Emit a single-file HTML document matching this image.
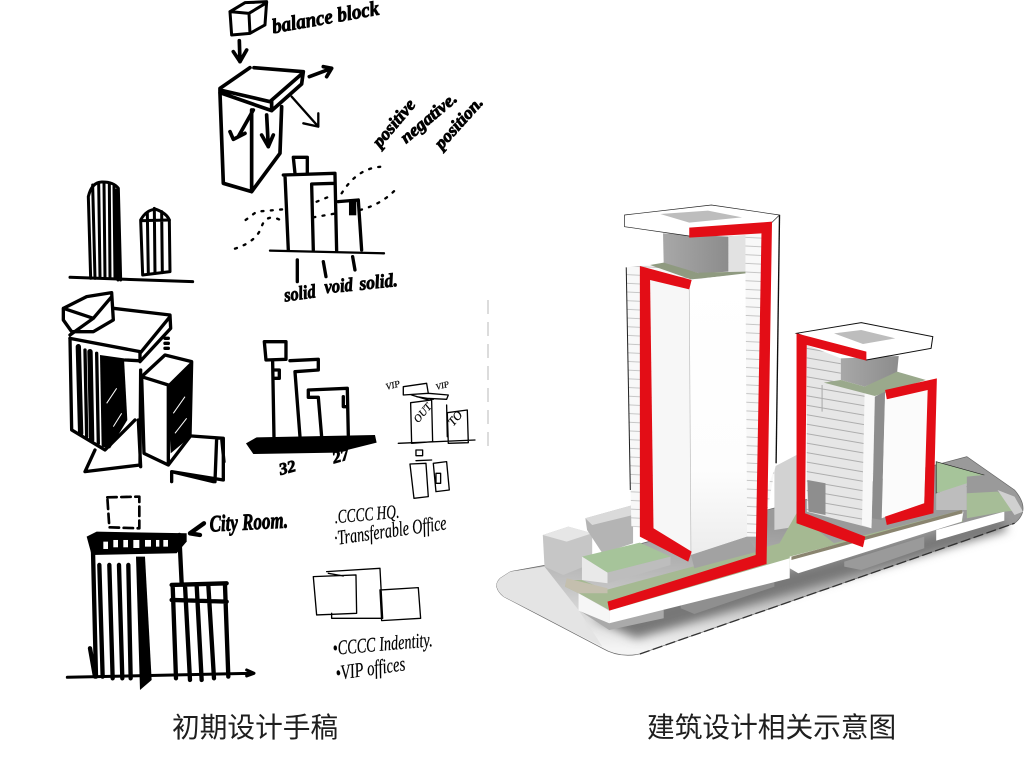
<!DOCTYPE html>
<html lang="zh">
<head>
<meta charset="utf-8">
<title>Sketches</title>
<style>
html,body{margin:0;padding:0;background:#fff;width:1024px;height:768px;overflow:hidden}
svg{display:block}
.cap{font-family:"Liberation Sans","Noto Sans CJK SC",sans-serif;font-size:27.7px;fill:#1e1e1e}
.h{font-family:"Liberation Serif",serif;font-style:italic;font-weight:700;fill:#000;stroke:#000;stroke-width:2.5px}
.t{font-family:"Liberation Serif",serif;font-style:italic;fill:#000;stroke:#000;stroke-width:.6px}
.s{fill:none;stroke:#000;stroke-linecap:round;stroke-linejoin:round}
</style>
</head>
<body>
<svg width="1024" height="768" viewBox="0 0 1024 768" xmlns="http://www.w3.org/2000/svg">
<defs>
<pattern id="hl" width="40" height="26" patternUnits="userSpaceOnUse" patternTransform="rotate(3)">
<rect width="40" height="26" fill="#f8f8f8"/><rect y="23" width="40" height="3" fill="#c6c6c6"/>
</pattern>
<pattern id="hr" width="40" height="28" patternUnits="userSpaceOnUse" patternTransform="rotate(10)">
<rect width="40" height="28" fill="#e6e6e6"/><rect y="25" width="40" height="3" fill="#adadad"/>
</pattern>
<linearGradient id="gnd" x1="0.55" y1="0.35" x2="0.45" y2="1">
<stop offset="0" stop-color="#9a9a9a"/><stop offset="0.55" stop-color="#c4c4c4"/><stop offset="1" stop-color="#f4f4f4"/>
</linearGradient>
<linearGradient id="core" x1="0" y1="0" x2="1" y2="0">
<stop offset="0" stop-color="#a8a8a8"/><stop offset="1" stop-color="#8c8c8c"/>
</linearGradient>
<linearGradient id="wf" x1="0" y1="0" x2="0" y2="1">
<stop offset="0" stop-color="#fff"/><stop offset="0.7" stop-color="#fdfdfd"/><stop offset="1" stop-color="#ececec"/>
</linearGradient>
<filter id="soft"><feGaussianBlur stdDeviation="0.6"/></filter>
<filter id="sh" x="-20%" y="-50%" width="140%" height="200%"><feGaussianBlur stdDeviation="14"/></filter>
</defs>
<rect width="1024" height="768" fill="#fff"/>

<!-- 3D MODEL -->
<g transform="translate(490,190) scale(0.3406,0.3333)" filter="url(#soft)">
<path d="M60,1145 L300,1100 L1400,800 L1540,900 Q1590,960 1540,1000 L440,1392 Q380,1405 330,1375 L40,1220 Q5,1190 30,1165 Z" fill="url(#gnd)" stroke="#666" stroke-width="2"/>
<path d="M60,1145 L160,1130 L260,1260 L330,1370 L40,1220 Q5,1190 30,1165 Z" fill="#e4e4e4"/>
<polygon points="300,1285 880,1140 1500,985 1520,1020 430,1345" fill="#777" filter="url(#sh)"/>
<path d="M440,1392 L1540,1000" stroke="#333" stroke-width="4" stroke-dasharray="30 10" fill="none"/>
<!-- undersides -->
<polygon points="560,1230 835,1160 835,1190 600,1272 560,1255" fill="#8f8f8f"/>
<polygon points="1040,1115 1275,1040 1275,1075 1090,1140 1040,1130" fill="#9a9a9a"/>
<polygon points="260,1260 510,1260 510,1285 350,1320" fill="#aaa"/>
<!-- left blocks -->
<polygon points="155,1035 230,1010 300,1030 300,1120 215,1155 160,1130" fill="#c6c6c6"/>
<polygon points="155,1035 230,1010 300,1030 225,1055" fill="#e6e6e6"/>
<polygon points="280,985 420,945 420,1060 330,1090 285,1020" fill="#b4b4b4"/>
<polygon points="280,985 420,945 420,975 300,1005" fill="#dadada"/>
<!-- back mid block -->
<polygon points="835,830 900,795 900,1010 835,1020" fill="#d2d2d2"/>
<!-- podium -->
<polygon points="225,1170 270,1170 340,1200 850,1060 900,970 1010,1060 1385,960 1388,995 905,1120 350,1260 260,1210 220,1190" fill="#a5b992"/>
<polygon points="225,1165 345,1195 345,1210 260,1210 220,1190" fill="#c4bfae"/>
<polygon points="270,1100 440,1058 530,1100 345,1148" fill="#a6c49a"/>
<polygon points="270,1100 345,1148 345,1180 270,1170" fill="#e9e9e9"/>
<polygon points="345,1148 530,1100 530,1125 345,1180" fill="#bdbdbd"/>
<polygon points="260,1210 350,1262 350,1300 260,1262" fill="#f6f6f6"/>
<polygon points="350,1262 880,1105 880,1165 350,1300" fill="#fff"/>
<polygon points="880,1100 1390,965 1385,995 905,1150 880,1135" fill="#fff"/>
<polygon points="885,1100 1385,960 1388,970 885,1110" fill="#8a8570"/>
<polygon points="1310,1020 1510,965 1510,992 1310,1052" fill="#fff"/>
<!-- right podium -->
<polygon points="1310,815 1450,855 1400,890 1310,910" fill="#a6c49a" stroke="#222" stroke-width="2"/>
<polygon points="1310,910 1400,880 1400,960 1310,960" fill="#bdbdbd"/>
<polygon points="1400,860 1450,855 1450,890 1400,910" fill="#9a9a9a"/>
<polygon points="1400,910 1490,905 1560,960 1510,965 1400,985" fill="#a6bd97"/>
<polygon points="1490,900 1540,920 1565,965 1540,975" fill="#d0d0d0"/>
<!-- Tower 1 back -->
<polygon points="400,232 520,218 700,140 850,75 838,830 800,1040 755,1040 415,1010" fill="url(#hl)"/>
<path d="M400,232 L412,900" fill="none" stroke="#222" stroke-width="3"/>
<polygon points="750,140 800,130 800,1030 755,1040" fill="url(#hl)"/>
<polygon points="800,100 850,75 838,830 812,900" fill="#fff"/>
<path d="M850,75 L840,820" fill="none" stroke="#111" stroke-width="4"/>
<!-- core 1 -->
<polygon points="508,130 700,140 700,245 615,250 510,222" fill="url(#core)"/>
<polygon points="700,140 750,135 750,250 700,250" fill="#e2e2e2"/>
<polygon points="470,225 510,218 615,250 590,268" fill="#8f9a80"/>
<polygon points="590,268 615,248 750,245 750,252" fill="#8f9a80"/>
<!-- roof 1 -->
<polygon points="395,75 650,45 850,75 825,100 585,138 395,110" fill="#fff" stroke="#222" stroke-width="2"/>
<polygon points="500,72 640,62 740,82 585,98" fill="#bdbdbd"/>
<!-- main volume 1 -->
<polygon points="470,270 585,298 590,1095 480,1020" fill="#f7f7f7"/>
<polygon points="585,270 750,250 755,1040 590,1095" fill="url(#wf)"/>
<path d="M585,298 L590,1095" stroke="#bdbdbd" stroke-width="2" fill="none"/>
<polygon points="590,1095 755,1040 785,1085 600,1135" fill="#a2a2a2"/>
<!-- red 1 -->
<polygon points="440,228 592,270 585,298 470,270 480,1015 592,1085 582,1115 440,1040" fill="#e30d14"/>
<polygon points="585,113 828,95 812,1122 350,1262 345,1235 780,1095 797,130 585,143" fill="#e30d14"/>
<!-- Tower 2 body -->
<polygon points="930,465 1030,505 1030,570 1130,620 1120,1015 930,965" fill="url(#hr)"/>
<polygon points="932,870 985,880 985,975 935,965" fill="#8e8e8e"/>
<polygon points="1100,600 1130,620 1120,1015 1092,1005" fill="#f8f8f8"/>
<!-- core 2 -->
<polygon points="1030,505 1200,498 1195,550 1100,590 1030,570" fill="url(#core)"/>
<polygon points="980,578 1030,570 1100,590 1195,545 1280,570 1130,618" fill="#9aa98c"/>
<path d="M975,585 L975,665" stroke="#aaa" stroke-width="3" fill="none"/>
<!-- roof 2 -->
<polygon points="900,430 1090,398 1300,440 1295,475 1105,510" fill="#fff" stroke="#111" stroke-width="3"/>
<polygon points="1010,430 1090,420 1190,445 1095,462" fill="#bdbdbd"/>
<!-- front 2 -->
<polygon points="1130,620 1160,605 1150,990 1122,985" fill="#8d8d8d"/>
<polygon points="1160,630 1285,600 1275,940 1150,985" fill="#fbfbfb"/>
<!-- red 2 -->
<polygon points="900,430 1105,485 1105,512 930,465 925,970 1102,1040 1095,1072 900,1000" fill="#e30d14"/>
<polygon points="1160,600 1312,565 1302,970 1165,1005 1160,980 1275,940 1285,600 1165,628" fill="#e30d14"/>
</g>

<!-- SKETCH TOP -->
<g transform="translate(50,0) scale(0.3333)">
<g class="s" stroke-width="9">
<path d="M540,35 L545,105 L600,100 L597,40 Z M540,35 L585,8 L650,5 L645,75 L600,100 M597,40 L650,8"/>
</g>
<g class="s" stroke-width="11">
<path d="M568,122 L570,185 M550,155 L570,185 L590,150"/>
<path d="M600,203 L510,265 L510,278 L665,332 L755,252 L760,215 L612,203 M510,270 L660,305 L755,222 M665,305 L665,332"/>
<path d="M510,280 L520,550 L605,575 L605,330 M605,575 L690,460 L695,320"/>
<path d="M610,330 L565,410 M540,395 L550,418 L585,400 M650,345 L655,440 M635,405 L655,440 L670,405"/>
<path d="M778,230 L845,205 M820,200 L845,205 L830,230"/>
</g>
<g class="s" stroke-width="7"><path d="M725,290 L805,380 L760,370 M805,380 L805,340"/></g>
<g class="s" stroke-width="10">
<path d="M705,525 L715,750 M700,525 L855,520 M735,520 L730,472 L772,472 L772,518 M785,552 L790,750 M785,552 L855,550 M855,522 L860,752 M865,605 L925,600 L935,750"/>
<path d="M742,780 L742,845 M820,785 L828,830 M908,770 L915,810"/>
</g>
<g class="s" stroke-width="7"><path d="M660,752 L1002,760"/></g>
<rect x="897" y="598" width="22" height="48" fill="#000"/>
<g class="s" stroke-width="7" stroke-dasharray="6 22">
<path d="M555,746 Q620,725 635,680 T700,665 M587,660 L620,635 L700,628 M790,652 L860,640 M800,605 L850,585 M875,580 Q925,500 1002,500 M930,630 Q1000,612 1045,560"/>
</g>
<text class="h" transform="translate(670,100) rotate(-10)" font-size="62" textLength="325" lengthAdjust="spacingAndGlyphs">balance block</text>
<text class="h" transform="translate(990,445) rotate(-50)" font-size="52" textLength="170" lengthAdjust="spacingAndGlyphs">positive</text>
<text class="h" transform="translate(1068,432) rotate(-40)" font-size="52" textLength="205" lengthAdjust="spacingAndGlyphs">negative.</text>
<text class="h" transform="translate(1175,450) rotate(-48)" font-size="52" textLength="190" lengthAdjust="spacingAndGlyphs">position.</text>
<text class="h" transform="translate(705,905) rotate(-8)" font-size="58" textLength="95" lengthAdjust="spacingAndGlyphs">solid</text>
<text class="h" transform="translate(825,880) rotate(-5)" font-size="58" textLength="85" lengthAdjust="spacingAndGlyphs">void</text>
<text class="h" transform="translate(930,870) rotate(-6)" font-size="58" textLength="115" lengthAdjust="spacingAndGlyphs">solid.</text>
<!-- striped towers -->
<g class="s" stroke-width="9">
<path d="M122,835 L115,590 Q125,547 155,546 Q190,545 205,565 L212,840"/>
<path d="M135,835 L128,555 M150,830 L146,548 M165,835 L162,548 M180,835 L178,552 M195,835 L192,560 M204,840 L200,570"/>
<path d="M278,825 L272,660 Q290,628 318,628 Q350,640 358,660 L360,815 L278,825"/>
<path d="M295,822 L292,640 M315,820 L313,625 M337,818 L335,635 M275,662 L358,660"/>
<path d="M60,832 L428,845"/>
</g>
</g>

<!-- SKETCH BOTTOM -->
<g transform="translate(50,290) scale(0.3333)">
<g class="s" stroke-width="10">
<path d="M40,55 L110,20 L185,8 L190,90 L130,125 L65,125 L40,90 Z M40,55 L130,85 L185,20 M60,135 L130,85"/>
<path d="M190,55 L360,75 L362,115 L270,215 L270,185 L60,145 M360,80 L270,190"/>
<path d="M60,145 L65,420 L165,480 L255,390 M225,210 L265,212"/>
<path d="M135,480 L105,545 L270,525 L272,240 M265,390 L272,530"/>
<path d="M275,260 L345,195 L425,215 L420,440 L355,525 L282,490 L275,260 M275,260 L355,285 L355,525"/>
<path d="M425,438 L520,445 L520,570 L365,545 L365,575 M365,545 L490,575 M500,445 L495,575 M515,445 L522,515"/>
<path d="M345,145 L355,145 M345,160 L355,160 M345,175 L355,175"/>
</g>
<g class="s" stroke-width="16"><path d="M85,170 L92,430 M120,185 L125,450"/></g>
<g class="s" stroke-width="10"><path d="M105,180 L110,440 M140,190 L145,460"/></g>
<polygon points="150,195 222,205 232,390 180,475 155,470" fill="#000"/>
<polygon points="352,285 420,218 422,440 362,490" fill="#000"/>
<path d="M170,340 L200,295 M190,410 L215,370 M370,370 L405,320 M375,430 L410,385" stroke="#fff" stroke-width="3" fill="none"/>
<!-- middle elevation -->
<g class="s" stroke-width="10">
<path d="M643,155 L708,155 L708,208 L648,210 Z M668,215 L672,440 M720,212 L805,208 L805,240 L735,245 L750,440 M670,240 L688,240 L688,265 L672,265"/>
<path d="M775,300 L892,295 L895,435 M775,300 L775,322 L805,322 L815,440 M880,320 L880,350 L892,350"/>
</g>
<polygon points="620,442 975,435 980,458 860,488 610,492 588,460" fill="#000"/>
<text class="h" transform="translate(692,555) rotate(-15)" font-size="50">32</text>
<text class="h" transform="translate(852,520) rotate(-15)" font-size="50">27</text>
<!-- small sketches -->
<g class="s" stroke-width="4">
<path d="M1060,290 L1130,280 L1135,310 L1060,315 Z M1085,315 L1135,330 M1135,310 L1195,315 L1190,328 L1130,325 M1100,320 L1150,328"/>
<path d="M1082,338 L1145,330 L1148,455 L1085,460 Z M1192,368 L1252,360 L1255,458 L1195,460 Z M1045,460 L1275,450 M1190,345 L1192,440"/>
<path d="M1098,480 L1118,480 L1118,497 L1098,497 Z M1080,522 L1128,520 L1135,620 L1092,625 Z M1098,512 L1145,510 M1150,520 L1190,515 L1198,600 L1158,605 Z M1158,550 L1172,550 L1172,580 L1158,580 Z"/>
<path d="M790,860 L918,855 L920,970 L800,975 Z M830,845 L990,835 L998,985 L845,985 L845,970 M835,850 L880,858 M990,900 L1105,893 L1112,985 L995,992 Z"/>
</g>
<text class="t" transform="translate(1010,300) rotate(-15)" font-size="28">VIP</text>
<text class="t" transform="translate(1160,300) rotate(-15)" font-size="26">VIP</text>
<text class="t" transform="translate(1105,400) rotate(-50)" font-size="32">OUT</text>
<text class="t" transform="translate(1210,410) rotate(-50)" font-size="36">TO</text>
<text class="t" transform="translate(855,700) rotate(-5)" font-size="58" textLength="195" lengthAdjust="spacingAndGlyphs">.CCCC HQ.</text>
<text class="t" transform="translate(855,765) rotate(-8)" font-size="62" textLength="340" lengthAdjust="spacingAndGlyphs">·Transferable Office</text>
<text class="t" transform="translate(850,1095) rotate(-5)" font-size="62" textLength="300" lengthAdjust="spacingAndGlyphs">•CCCC Indentity.</text>
<text class="t" transform="translate(860,1170) rotate(-8)" font-size="62" textLength="210" lengthAdjust="spacingAndGlyphs">•VIP offices</text>
<text class="h" transform="translate(480,725) rotate(-3)" font-size="70" textLength="235" lengthAdjust="spacingAndGlyphs">City Room.</text>
<!-- City tower -->
<g class="s" stroke-width="8" stroke-dasharray="28 14"><path d="M172,622 L268,620 L268,715 L178,712 Z"/></g>
<g class="s" stroke-width="13">
<path d="M420,730 L462,700 M420,730 L450,735"/>
<path d="M128,740 L138,1160 M388,735 L395,880 M148,825 L158,1160 M178,825 L188,1165 M207,825 L217,1165 M235,825 L242,1165 M120,1075 L135,1160 M368,885 L378,1165 M405,885 L420,1170 M440,885 L455,1170 M475,885 L492,1165 M525,885 L535,1160 M365,885 L530,880 M365,930 L530,935"/>
</g>
<polygon points="110,740 140,725 410,730 410,755 380,790 125,795" fill="#000"/>
<g fill="#fff">
<rect x="160" y="755" width="14" height="22"/><rect x="190" y="750" width="14" height="22"/><rect x="220" y="750" width="14" height="22"/><rect x="250" y="750" width="18" height="24"/><rect x="285" y="750" width="18" height="20"/><rect x="318" y="750" width="10" height="20"/><rect x="340" y="750" width="14" height="20"/>
</g>
<polygon points="258,800 285,800 305,1170 270,1200" fill="#000"/>
<path class="s" stroke-width="9" d="M52,1162 L610,1150 M590,1140 L612,1150 L590,1158"/>
</g>

<!-- faint scan marks -->
<path d="M488,300 L488,450" stroke="#d0d0d0" stroke-width="1.5" stroke-dasharray="14 8" fill="none"/>

<text class="cap" x="172" y="737">初期设计手稿</text>
<text class="cap" x="647" y="737">建筑设计相关示意图</text>
</svg>
</body>
</html>
